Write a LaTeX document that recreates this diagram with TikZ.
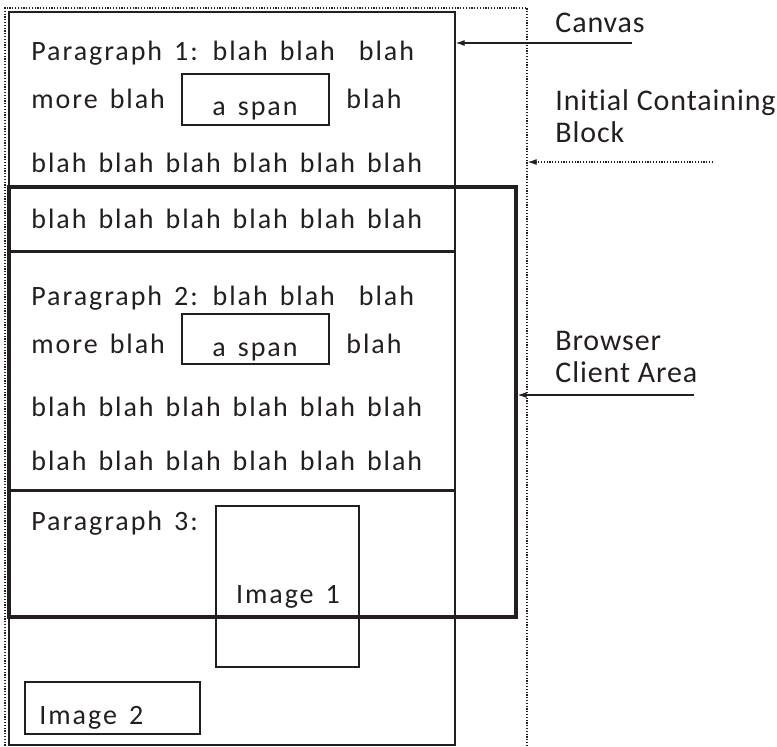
\documentclass[tikz,border=0pt]{standalone}
\usepackage{fontspec}
\setmainfont[Ligatures=NoCommon, LetterSpace=3]{Carlito}
\newfontfamily\blahfont[Ligatures=NoCommon, LetterSpace=7, WordSpace=1.45]{Carlito}
\usepackage{xcolor}
\definecolor{ink}{HTML}{231F20}
\usetikzlibrary{arrows.meta, positioning, fit}

\begin{document}
\begin{tikzpicture}[x=0.5pt, y=-0.5pt, ink,
  box/.style={draw=ink, inner sep=0pt, line width=0.6pt},
  thickbox/.style={draw=ink, inner sep=0pt, line width=1.6pt},
  dotbox/.style={draw=ink, inner sep=0pt, line width=0.6pt, dash pattern=on 0.6pt off 0.8pt},
  txt/.style={anchor=base west, inner sep=0pt, text=ink, font=\blahfont\fontsize{14}{16}\selectfont},
  mid/.style={anchor=base, inner sep=0pt, text=ink, font=\blahfont\fontsize{14}{16}\selectfont},
  lbl/.style={anchor=base west, inner sep=0pt, text=ink, font=\fontsize{15}{17}\selectfont},
  pointer/.style={-{Latex[length=4.5pt, width=3pt]}, draw=ink, line width=0.6pt}
]
\useasboundingbox (0,0) rectangle (777,746);

% Boxes
\node[dotbox, fit={(5,8) (527,770)}] (icb) {};
\node[box, fit={(9,12) (455,745)}] (canvas) {};
\node[box, fit={(9,12) (455,251)}] (par1) {};
\node[box, fit={(9,251) (455,490)}] (par2) {};
\node[box, fit={(9,490) (455,745)}] (par3) {};
\draw[line width=1.6pt] (par1.south west) -- (par1.south east);
\draw[line width=1.6pt] (par2.south west) -- (par2.south east);
\node[thickbox, fit={(9,187) (516,617)}] (client) {};

% Paragraph 1
\node[txt] (p1a) at (31,60) {Paragraph 1: blah blah\ \ blah};
\node[txt] (p1b) at (31,108) {more blah};
\node[box, fit={(182,74) (329,125)}] (span1) {};
\node[mid] at (255,115) {a span};
\node[txt] at (346,108) {blah};
\node[txt] (p1c) at (31,172) {blah blah blah blah blah blah};
\node[txt] (p1d) at (31,228) {blah blah blah blah blah blah};

% Paragraph 2
\node[txt] (p2a) at (31,305) {Paragraph 2: blah blah\ \ blah};
\node[txt] (p2b) at (31,353) {more blah};
\node[box, fit={(182,314) (329,364)}] (span2) {};
\node[mid] at (255,356) {a span};
\node[txt] at (346,353) {blah};
\node[txt] (p2c) at (31,416) {blah blah blah blah blah blah};
\node[txt] (p2d) at (31,470) {blah blah blah blah blah blah};

% Paragraph 3 and images
\node[txt] (p3a) at (31,530) {Paragraph 3:};
\node[box, fit={(216,506) (359,667)}] (img1) {};
\node[mid] at (288,603) {Image 1};
\node[box, fit={(25,682) (200,734)}] (img2) {};
\node[txt] at (39,724) {Image 2};

% Labels
\node[lbl] (lcanvas) at (555,32) {Canvas};
\node[lbl] (licb1) at (555,110) {Initial Containing};
\node[lbl] (licb2) at (555,142) {Block};
\node[lbl] (lclient1) at (555,350) {Browser};
\node[lbl] (lclient2) at (555,382) {Client Area};

\coordinate (canvastail) at (632,43);
\coordinate (icbtail) at (713,162);
\coordinate (clienttail) at (694,395);
\draw[pointer] (canvastail) -- (canvastail -| canvas.east);
\draw[pointer, dash pattern=on 0.6pt off 0.8pt] (icbtail) -- (icbtail -| icb.east);
\draw[pointer] (clienttail) -- (clienttail -| client.east);
\end{tikzpicture}
\end{document}
